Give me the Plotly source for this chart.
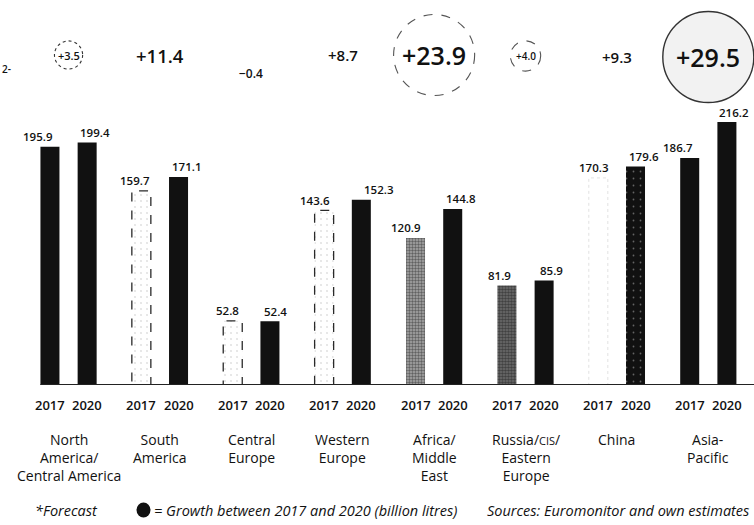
import plotly.graph_objects as go

# Beer volume by region, 2017 vs 2020 forecast (billion litres)
regions = [
    "North<br>America/<br>Central America",
    "South<br>America",
    "Central<br>Europe",
    "Western<br>Europe",
    "Africa/<br>Middle<br>East",
    "Russia/<span style='font-size:11px'>CIS</span>/<br>Eastern<br>Europe",
    "China",
    "Asia-<br>Pacific",
]
years = ["2017", "2020"]
vol_2017 = [195.9, 159.7, 52.8, 143.6, 120.9, 81.9, 170.3, 186.7]
vol_2020 = [199.4, 171.1, 52.4, 152.3, 144.8, 85.9, 179.6, 216.2]
growth = [round(b - a, 1) for a, b in zip(vol_2017, vol_2020)]

# fill style of each bar
style_2017 = ["solid", "dashed", "dashed", "dashed", "speckle", "speckle_dark", "faint", "solid"]
style_2020 = ["solid", "solid", "solid", "solid", "solid", "solid", "speckle_inv", "solid"]
# outline of the growth bubble per region (None = not drawn)
bubble_style = ["dot", None, None, None, "dash", "dash", None, "solid"]

FONT = "Open Sans"
INK = "#111111"
OFFSET = 0.2035      # half distance between the two bars of a region
BAR_W = 0.208
PLOT_H = 385         # pixel height of the plotting area

FILLS = {
    "solid":        dict(color=INK, pattern=None),
    "dashed":       dict(color="white",
                         pattern=dict(shape=".", fgcolor="#c4c4c4", solidity=0.1, size=6, fillmode="overlay")),
    "faint":        dict(color="white", pattern=None),
    "speckle":      dict(color="#a8a8a8",
                         pattern=dict(shape=".", fgcolor="#1a1a1a", solidity=0.5, size=3, fillmode="overlay")),
    "speckle_dark": dict(color="#707070",
                         pattern=dict(shape=".", fgcolor="#111111", solidity=0.6, size=3, fillmode="overlay")),
    "speckle_inv":  dict(color=INK,
                         pattern=dict(shape=".", fgcolor="#b8b8b8", solidity=0.05, size=7, fillmode="overlay")),
}

fig = go.Figure()
for values, styles, dx in ((vol_2017, style_2017, -OFFSET), (vol_2020, style_2020, OFFSET)):
    for key, fill in FILLS.items():
        idx = [i for i, s in enumerate(styles) if s == key]
        if not idx:
            continue
        marker = dict(color=fill["color"], line=dict(width=0))
        if fill["pattern"]:
            marker["pattern"] = fill["pattern"]
        fig.add_trace(go.Bar(
            x=[i + dx for i in idx],
            y=[values[i] for i in idx],
            width=BAR_W,
            marker=marker,
            showlegend=False,
            hoverinfo="y",
        ))

shapes = []
# dashed outlines for the lighter 2017 bars
for i, (v, s) in enumerate(zip(vol_2017, style_2017)):
    if s in ("dashed", "faint"):
        shapes.append(dict(
            type="rect", xref="x", yref="y",
            x0=i - OFFSET - BAR_W / 2, x1=i - OFFSET + BAR_W / 2, y0=0, y1=v,
            line=dict(color="#2a2a2a" if s == "dashed" else "#e2e2e2",
                      width=1.3 if s == "dashed" else 1,
                      dash="dash" if s == "dashed" else "dot"),
            layer="above",
        ))

# baseline
shapes.append(dict(type="line", xref="x", yref="y",
                   x0=-OFFSET - BAR_W / 2, x1=7.5, y0=0, y1=0,
                   line=dict(color="#222222", width=2)))

# growth bubbles, radius scales with growth
label_py = [55, 55, 74, 55, 55, 56, 57, 57]          # pixel height of each growth label
for i, (g, b) in enumerate(zip(growth, bubble_style)):
    if b is None:
        continue
    r = 45.5 * (abs(g) / 29.5) ** 0.55
    yc = (PLOT_H - label_py[i]) / PLOT_H
    shapes.append(dict(
        type="circle", xref="x", yref="paper",
        xsizemode="pixel", ysizemode="pixel",
        xanchor=i, yanchor=yc,
        x0=-r, x1=r, y0=-r, y1=r,
        line=dict(color="#333333" if b != "dash" else "#555555",
                  width=1.4 if b == "solid" else 1.1,
                  dash=b),
        fillcolor="#f2f2f2" if b == "solid" else "rgba(0,0,0,0)",
        layer="below",
    ))

annotations = []

# value labels above each bar
shift_2017 = [-12, -6, -5, -9, -10, -7, -4, -12]
shift_2020 = [8, 8, 6, 18, 8, 7, 8, 7]
for i in range(len(regions)):
    for v, dx, sh in ((vol_2017[i], -OFFSET, shift_2017[i]), (vol_2020[i], OFFSET, shift_2020[i])):
        annotations.append(dict(
            x=i + dx, y=v, xref="x", yref="y", text=f"{v:.1f}",
            showarrow=False, yanchor="middle", yshift=10, xshift=sh,
            font=dict(family=FONT, size=11.5, color=INK, weight=600),
        ))

# growth labels
growth_size = [11, 18.5, 12, 15, 25, 10, 15, 25]
for i, g in enumerate(growth):
    txt = (f"+{g:.1f}" if g >= 0 else f"\u2212{abs(g):.1f}")
    annotations.append(dict(
        x=i, y=(PLOT_H - label_py[i]) / PLOT_H, xref="x", yref="paper",
        text=txt, showarrow=False, xanchor="center", yanchor="middle",
        font=dict(family=FONT, size=growth_size[i], color=INK, weight=600),
    ))

# year labels under the bars
for i in range(len(regions)):
    for dx, yr in ((-OFFSET, years[0]), (OFFSET, years[1])):
        annotations.append(dict(
            x=i + dx, y=0, xref="x", yref="y", text=yr,
            showarrow=False, yanchor="middle", yshift=-20,
            font=dict(family=FONT, size=13, color=INK, weight=600),
        ))

# region names
for i, name in enumerate(regions):
    annotations.append(dict(
        x=i, y=0, xref="x", yref="y", text=name,
        showarrow=False, yanchor="top", yshift=-43,
        font=dict(family=FONT, size=14, color=INK, weight=500),
    ))

# fragment at the left edge
annotations.append(dict(x=0, y=(PLOT_H - 60) / PLOT_H, xref="paper", yref="paper",
                        text="2-", showarrow=False, xanchor="left", xshift=0,
                        font=dict(family=FONT, size=10, color=INK, weight=600)))

# footer
foot_y = -125 / PLOT_H
footer = [
    (33, "<i>*Forecast</i>"),
    (152, "<i>= Growth between 2017 and 2020 (billion litres)</i>"),
    (485, "<i>Sources: Euromonitor and own estimates</i>"),
]
for px, txt in footer:
    annotations.append(dict(
        x=px / 754, y=foot_y, xref="paper", yref="paper", text=txt,
        showarrow=False, xanchor="left", yanchor="middle",
        font=dict(family=FONT, size=14.5, color=INK, weight=500),
    ))
shapes.append(dict(type="circle", xref="paper", yref="paper",
                   xsizemode="pixel", ysizemode="pixel",
                   xanchor=143.5 / 754, yanchor=foot_y,
                   x0=-7, x1=7, y0=-7.5, y1=7.5,
                   fillcolor=INK, line=dict(width=0)))

fig.update_layout(
    width=754, height=525,
    margin=dict(l=0, r=0, t=0, b=525 - PLOT_H),
    plot_bgcolor="white", paper_bgcolor="white",
    xaxis=dict(range=[-0.75, 7.5], showgrid=False, zeroline=False,
               showticklabels=False, ticks="", fixedrange=True),
    yaxis=dict(range=[0, PLOT_H / 1.216], showgrid=False, zeroline=False,
               showticklabels=False, ticks="", fixedrange=True),
    barmode="overlay",
    shapes=shapes,
    annotations=annotations,
    font=dict(family=FONT, color=INK),
)

fig.write_html("out.html")
